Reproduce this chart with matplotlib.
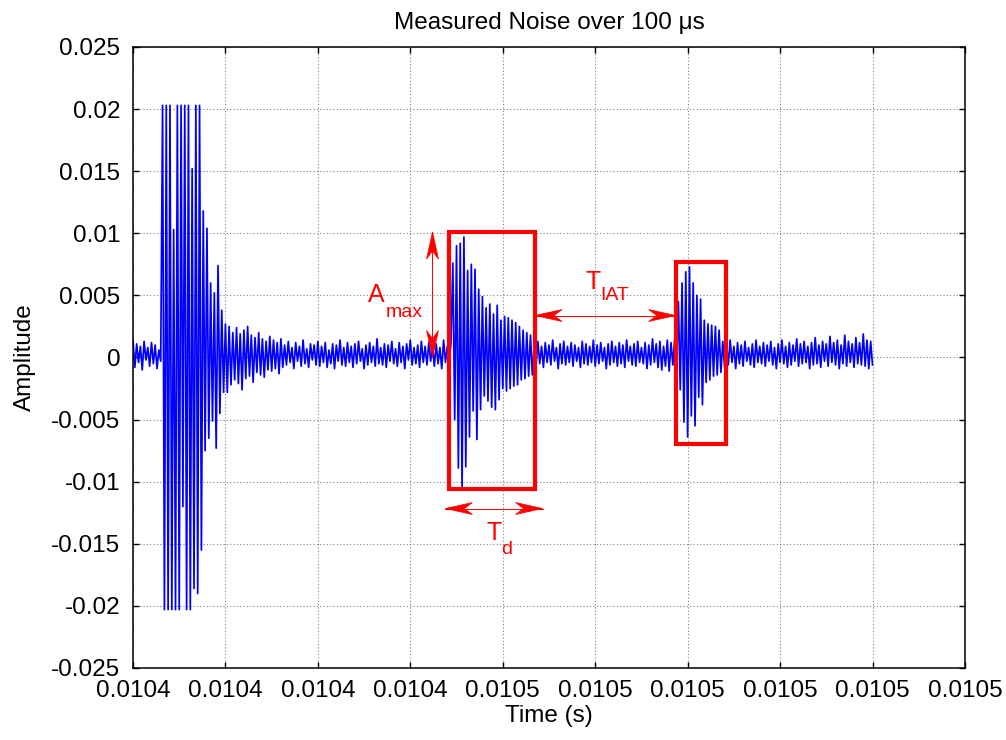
"""Measured noise trace with burst annotations (A_max, T_d, T_IAT)."""

import numpy as np
import matplotlib
matplotlib.use('Agg')
import matplotlib.pyplot as plt
from matplotlib.patches import Rectangle, Polygon
from matplotlib.transforms import IdentityTransform

plt.rcParams['font.family'] = ['Liberation Sans', 'DejaVu Sans']

t_start = 0.01041
t_end = 0.01049
pre_noise = [14, -8, 11, -4, 9, -10, 13, -2, 8, -7, 12, -5, 10, -9, 6, -3]
burst_1 = [203, -203, 203, -203, 203, -203, 103, -203, 203, -203,
           203, -120, 203, -203, 203, -203, 152, -186, 203, -190,
           203, -155, 118, -75, 104, -65, 60, -51, 52, -73,
           74, -45, 38, -28, 27, -28, 25, -22, 20, -18]
noise_1 = [24, -21, 19, -26, 22, -17, 25, -15, 18, -20, 16, -12, 20, -14, 15, -16,
           13, -10, 17, -11, 14, -9, 12, -13, 15, -8,
           10, -6, 13, -4, 8, -9, 12, -3, 9, -7,
           14, -5, 7, -8, 11, -2, 10, -6, 13, -7,
           9, -4, 12, -8, 6, -5, 11, -9, 10, -3,
           14, -6, 8, -7, 12, -4, 9, -8, 11, -5,
           13, -3, 7, -9, 10, -6, 12, -4, 9, -7,
           15, -5, 8, -6, 11, -8, 10, -3, 13, -5,
           7, -7, 12, -4, 9, -9, 11, -2, 14, -6,
           8, -5, 10, -8, 13, -4, 9, -6, 12, -3,
           10, -7, 11, -5, 8, -9, 14, -4, 9, -6, 12]
burst_2 = [76, -50, 90, -89, 92, -105, 97, -88, 70, -64, 75, -43, 71, -66, 55, -42,
           49, -31, 40, -35, 43, -40, 35, -42, 42, -34, 30, -25, 33, -27, 32, -25,
           30, -23, 28, -22, 25, -18, 22, -17, 20, -15, 18, -14]
noise_2 = [11, -7, 13, -5, 9, -8, 12, -4, 10, -6,
           14, -3, 8, -9, 11, -5, 13, -6, 9, -4,
           12, -7, 10, -3, 8, -8, 13, -5, 11, -6,
           9, -4, 14, -7, 10, -5, 12, -3, 8, -9,
           11, -6, 13, -4, 9, -7, 12, -5, 10, -8,
           14, -3, 9, -6, 11, -7, 13, -4, 8, -5,
           12, -9, 10, -6, 15, -4, 11, -8, 13, -10,
           9, -7, 14, -11, 12, -6, 15, -9]
burst_3 = [45, -26, 60, -52, 69, -64, 73, -47, 60, -55, 50, -32, 47, -38, 30, -20,
           27, -18, 26, -15, 25, -14, 22, -12]
noise_3 = [13, -8, 11, -6, 14, -4, 9, -9, 12, -5,
           10, -7, 13, -3, 8, -6, 11, -8, 14, -4,
           9, -5, 12, -7, 10, -3, 13, -6, 8, -9,
           11, -4, 14, -5, 9, -8, 12, -6, 10, -3,
           15, -7, 11, -5, 13, -4, 9, -9, 12, -6,
           16, -5, 10, -8, 13, -3, 11, -7, 17, -4,
           12, -6, 14, -9, 10, -5, 18, -7, 13, -4,
           11, -8, 16, -5, 12, -6, 19, -7, 14, -9,
           13, -6]

x_ticks = [0.01041, 0.01042, 0.01043, 0.01044, 0.01045,
           0.01046, 0.01047, 0.01048, 0.01049, 0.01050]
x_labels = ['0.0104', '0.0104', '0.0104', '0.0104', '0.0105',
            '0.0105', '0.0105', '0.0105', '0.0105', '0.0105']
y_ticks = [0.025, 0.02, 0.015, 0.01, 0.005, 0, -0.005, -0.01, -0.015, -0.02, -0.025]
y_labels = ['0.025', '0.02', '0.015', '0.01', '0.005', '0',
            '-0.005', '-0.01', '-0.015', '-0.02', '-0.025']

# annotation boxes (t0, t1, y0, y1)
box_1 = (0.0104442, 0.0104535, -0.0106, 0.0101)
box_2 = (0.0104687, 0.0104741, -0.0070, 0.0077)
amax_x = 0.0104424
td_span = (0.0104438, 0.0104543, -0.01216)
tiat_y = 0.00338

amp = np.array(pre_noise + burst_1 + noise_1 + burst_2 + noise_2 + burst_3 + noise_3) * 1e-4
t = np.linspace(t_start, t_end, len(amp))

fig = plt.figure(figsize=(10.06, 7.40), dpi=100)
ax = fig.add_axes([0.1322, 0.0973, 0.827, 0.8392])
ax.plot(t, amp, color='#0000ff', lw=1.25)

ax.set_xlim(x_ticks[0], x_ticks[-1])
ax.set_ylim(-0.025, 0.025)
ax.set_xticks(x_ticks)
ax.set_xticklabels(x_labels)
ax.set_yticks(y_ticks)
ax.set_yticklabels(y_labels)
ax.tick_params(direction='in', length=4.5, width=1.0, top=True, right=True,
               labelsize=17.5, colors='black')
ax.tick_params(axis='x', pad=9)
ax.tick_params(axis='y', pad=9)
ax.grid(True, color='0.5', linestyle=(0, (1, 2)), lw=0.8)
for s in ax.spines.values():
  s.set_linewidth(1.1)

ax.set_title('Measured Noise over 100 μs', fontsize=17.5, pad=13)
ax.set_xlabel('Time (s)', fontsize=17.5, labelpad=2)
ax.set_ylabel('Amplitude', fontsize=17.5, labelpad=11)

for b in (box_1, box_2):
  ax.add_patch(Rectangle((b[0], b[2]), b[1] - b[0], b[3] - b[2], fill=False,
                         ec='red', lw=3.0, zorder=4))


def double_arrow(p0, p1):
  ax.plot([p0[0], p1[0]], [p0[1], p1[1]], color='red', lw=0.7, zorder=5, clip_on=False)
  a = ax.transData.transform(p0)
  b = ax.transData.transform(p1)
  d = (b - a) / np.hypot(*(b - a))
  for tip, u in ((a, -d), (b, d)):
    n = np.array([-u[1], u[0]])
    verts = [tip, tip - 27 * u + 6 * n, tip - 19 * u, tip - 27 * u - 6 * n]
    ax.add_patch(Polygon(verts, closed=True, transform=IdentityTransform(),
                         fc='red', ec='red', lw=0.5, zorder=5, clip_on=False))


double_arrow((amax_x, box_1[3]), (amax_x, 0.0))
double_arrow((box_1[1], tiat_y), (box_2[0], tiat_y))
double_arrow((td_span[0], td_span[2]), (td_span[1], td_span[2]))

ax.text(0.0104354, 0.00443, 'A', color='red', fontsize=18, va='baseline')
ax.text(0.0104373, 0.00330, 'max', color='red', fontsize=14, va='baseline')
ax.text(0.0104589, 0.00548, 'T', color='red', fontsize=18, va='baseline')
ax.text(0.0104606, 0.00459, 'IAT', color='red', fontsize=14, va='baseline')
ax.text(0.0104482, -0.01473, 'T', color='red', fontsize=18, va='baseline')
ax.text(0.0104498, -0.01586, 'd', color='red', fontsize=14, va='baseline')

fig.savefig('out.png', dpi=100)
